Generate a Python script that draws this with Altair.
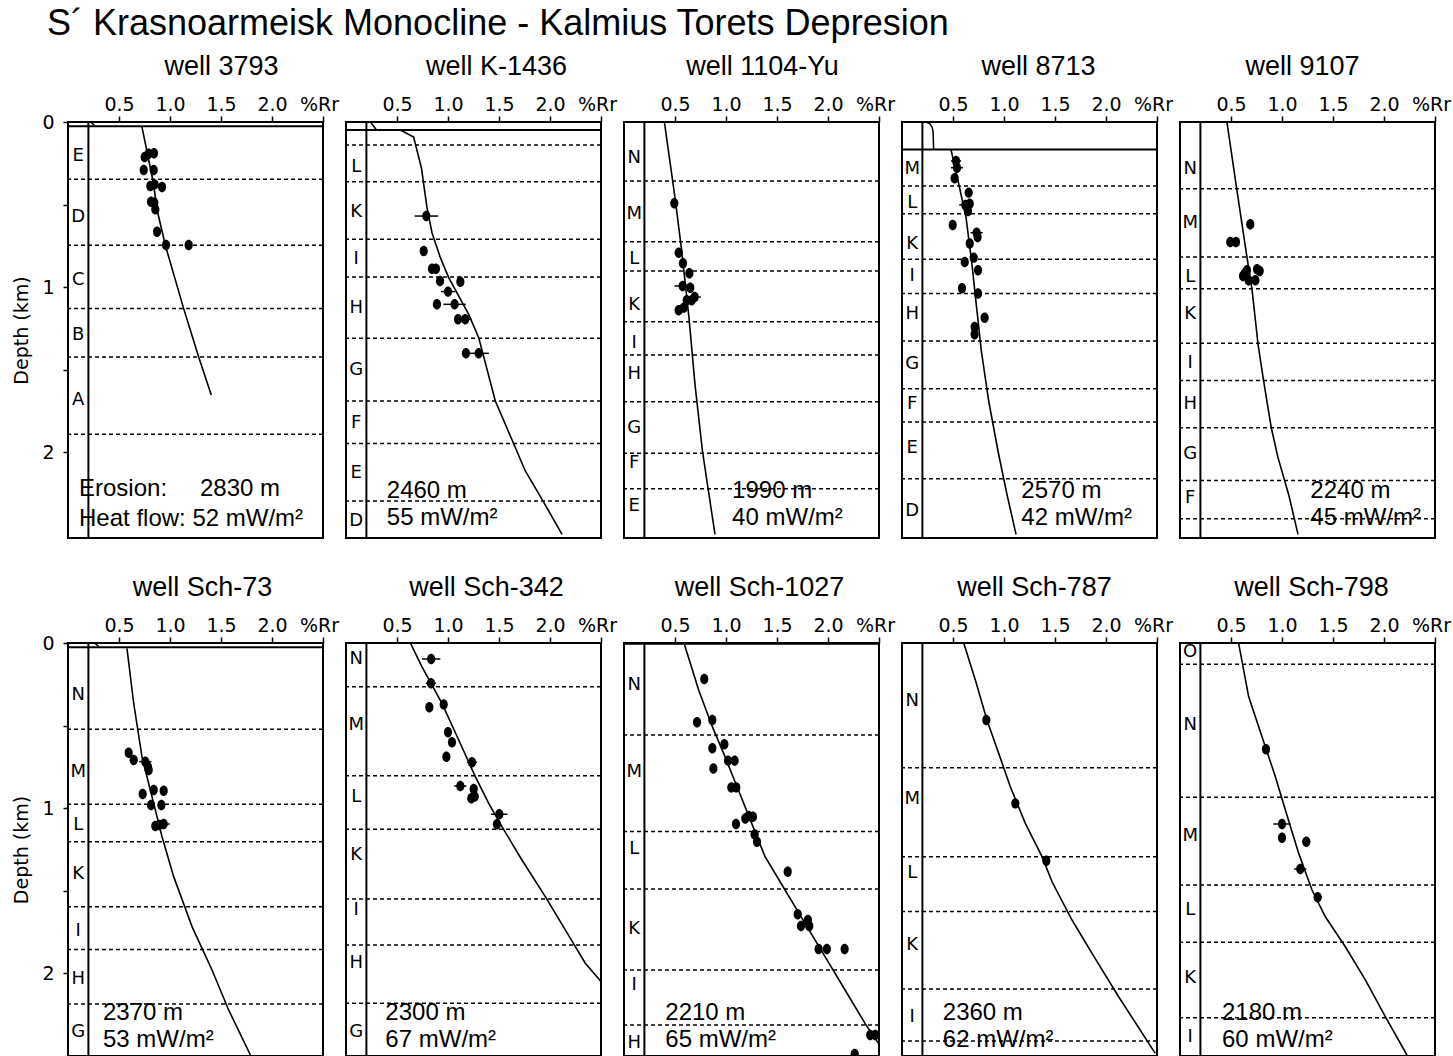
import altair as alt
import pandas as pd

# ---------------- data ----------------
TITLE = "S\u00b4 Krasnoarmeisk Monocline - Kalmius Torets Depresion"
WELL_NAMES = ["well 3793", "well K-1436", "well 1104-Yu", "well 8713", "well 9107",
              "well Sch-73", "well Sch-342", "well Sch-1027", "well Sch-787", "well Sch-798"]
X_TICKS = [0.5, 1.0, 1.5, 2.0, 2.5]
Y_TICKS = [0, 0.5, 1, 1.5, 2]

# well 3793
W1_CURVE_X = [0.725, 0.83, 0.88, 0.954, 1.134, 1.281, 1.405]
W1_CURVE_D = [0.03, 0.347, 0.55, 0.747, 1.131, 1.424, 1.655]
W1_PTS_X = [0.752, 0.791, 0.843, 0.742, 0.840, 0.807, 0.850, 0.922, 0.814, 0.846, 0.856, 0.873, 0.961, 1.183]
W1_PTS_D = [0.212, 0.192, 0.190, 0.291, 0.291, 0.388, 0.378, 0.394, 0.483, 0.489, 0.529, 0.665, 0.745, 0.745]
W1_ERR = [0] * 14
W1_BOUNDS = [0.347, 0.747, 1.131, 1.424, 1.893]
W1_UNITS = ["E", "D", "C", "B", "A"]
W1_UNITS_D = [0.206, 0.574, 0.958, 1.293, 1.685]
W1_TOPLINE = [0.025]
W1_STRIP_X = [0.22, 0.26]
W1_STRIP_D = [0.0, 0.02]
W1_TEXT = ["Erosion:", "2830 m", "Heat flow: 52 mW/m\u00b2"]
W1_TEXT_X = [0.108, 1.294, 0.108]
W1_TEXT_D = [2.267, 2.267, 2.448]

# well K-1436
W2_CURVE_X = [0.533, 0.663, 0.739, 0.794, 0.843, 0.925, 1.007, 1.203, 1.301, 1.464, 1.562, 1.758, 1.922, 2.118]
W2_CURVE_D = [0.048, 0.091, 0.277, 0.519, 0.671, 0.822, 0.943, 1.166, 1.307, 1.691, 1.832, 2.115, 2.287, 2.499]
W2_PTS_X = [0.788, 0.762, 0.843, 0.882, 0.922, 1.121, 1.0, 0.892, 1.065, 1.098, 1.169, 1.176, 1.301]
W2_PTS_D = [0.570, 0.782, 0.889, 0.889, 0.964, 0.968, 1.028, 1.105, 1.105, 1.196, 1.196, 1.402, 1.402]
W2_ERR = [0.115, 0, 0, 0, 0, 0, 0.07, 0, 0.11, 0, 0.06, 0, 0.1]
W2_BOUNDS = [0.139, 0.362, 0.711, 0.939, 1.311, 1.691, 1.949, 2.297]
W2_UNITS = ["L", "K", "I", "H", "G", "F", "E", "D"]
W2_UNITS_D = [0.273, 0.545, 0.828, 1.129, 1.505, 1.822, 2.125, 2.418]
W2_TOPLINE = [0.048]
W2_STRIP_X = [0.238, 0.30]
W2_STRIP_D = [0.0, 0.048]
W2_TEXT = ["2460 m", "55 mW/m\u00b2"]
W2_TEXT_X = [0.40, 0.40]
W2_TEXT_D = [2.279, 2.44]

# well 1104-Yu
W3_CURVE_X = [0.396, 0.5, 0.566, 0.637, 0.696, 0.769, 0.892]
W3_CURVE_D = [0.0, 0.459, 0.782, 1.186, 1.59, 1.994, 2.499]
W3_PTS_X = [0.493, 0.536, 0.578, 0.641, 0.575, 0.650, 0.693, 0.615, 0.664, 0.536, 0.585]
W3_PTS_D = [0.493, 0.792, 0.856, 0.917, 0.994, 1.004, 1.061, 1.081, 1.081, 1.141, 1.125]
W3_ERR = [0, 0, 0.04, 0, 0.08, 0, 0.06, 0, 0, 0, 0]
W3_BOUNDS = [0.358, 0.725, 0.903, 1.210, 1.412, 1.695, 2.008, 2.222]
W3_UNITS = ["N", "M", "L", "K", "I", "H", "G", "F", "E"]
W3_UNITS_D = [0.216, 0.556, 0.832, 1.109, 1.337, 1.525, 1.853, 2.065, 2.327]
W3_TOPLINE = []
W3_STRIP_X = []
W3_STRIP_D = []
W3_TEXT = ["1990 m", "40 mW/m\u00b2"]
W3_TEXT_X = [1.06, 1.06]
W3_TEXT_D = [2.279, 2.44]

# well 8713
W4_CURVE_X = [0.48, 0.557, 0.628, 0.686, 0.735, 0.778, 0.85, 0.941, 1.029, 1.118]
W4_CURVE_D = [0.166, 0.378, 0.580, 0.863, 1.145, 1.388, 1.691, 1.994, 2.257, 2.499]
W4_PTS_X = [0.53, 0.539, 0.516, 0.654, 0.621, 0.664, 0.647, 0.497, 0.732, 0.741, 0.664, 0.703, 0.615,
            0.745, 0.588, 0.745, 0.810, 0.712, 0.712]
W4_PTS_D = [0.236, 0.277, 0.341, 0.428, 0.503, 0.495, 0.539, 0.624, 0.671, 0.697, 0.737, 0.822, 0.848,
            0.899, 1.008, 1.040, 1.186, 1.242, 1.287]
W4_ERR = [0.05, 0.06, 0, 0, 0.06, 0, 0, 0.03, 0.06, 0, 0, 0, 0, 0, 0, 0, 0, 0, 0]
W4_BOUNDS = [0.388, 0.556, 0.832, 1.040, 1.327, 1.616, 1.818, 2.162]
W4_UNITS = ["M", "L", "K", "I", "H", "G", "F", "E", "D"]
W4_UNITS_D = [0.287, 0.489, 0.737, 0.933, 1.166, 1.469, 1.711, 1.974, 2.358]
W4_TOPLINE = [0.166]
W4_STRIP_X = [0.235, 0.27, 0.295, 0.305, 0.31]
W4_STRIP_D = [0.0, 0.01, 0.03, 0.06, 0.166]
W4_TEXT = ["2570 m", "42 mW/m\u00b2"]
W4_TEXT_X = [1.17, 1.17]
W4_TEXT_D = [2.279, 2.44]

# well 9107
W5_CURVE_X = [0.461, 0.559, 0.657, 0.706, 0.765, 0.82, 0.895, 0.961, 1.065, 1.157]
W5_CURVE_D = [0.004, 0.418, 0.822, 1.014, 1.347, 1.570, 1.853, 2.034, 2.257, 2.499]
W5_PTS_X = [0.689, 0.493, 0.549, 0.657, 0.755, 0.781, 0.618, 0.673, 0.739, 0.634]
W5_PTS_D = [0.620, 0.727, 0.727, 0.899, 0.893, 0.903, 0.933, 0.959, 0.959, 0.919]
W5_ERR = [0] * 10
W5_BOUNDS = [0.404, 0.818, 1.010, 1.341, 1.566, 1.853, 2.172, 2.404]
W5_UNITS = ["N", "M", "L", "K", "I", "H", "G", "F"]
W5_UNITS_D = [0.287, 0.610, 0.939, 1.166, 1.459, 1.711, 2.014, 2.277]
W5_TOPLINE = []
W5_STRIP_X = []
W5_STRIP_D = []
W5_TEXT = ["2240 m", "45 mW/m\u00b2"]
W5_TEXT_X = [1.278, 1.278]
W5_TEXT_D = [2.279, 2.44]

# well Sch-73
W6_CURVE_X = [0.578, 0.644, 0.725, 0.840, 0.922, 1.036, 1.216, 1.412, 1.575, 1.788]
W6_CURVE_D = [0.032, 0.365, 0.689, 0.972, 1.174, 1.416, 1.719, 1.982, 2.224, 2.497]
W6_PTS_X = [0.595, 0.644, 0.758, 0.791, 0.784, 0.732, 0.840, 0.938, 0.814, 0.915, 0.856, 0.895, 0.938]
W6_PTS_D = [0.665, 0.709, 0.719, 0.770, 0.75, 0.915, 0.891, 0.895, 0.982, 0.982, 1.109, 1.103, 1.097]
W6_ERR = [0, 0.04, 0.06, 0, 0, 0, 0, 0, 0, 0, 0, 0, 0.06]
W6_BOUNDS = [0.523, 0.978, 1.204, 1.598, 1.857, 2.188]
W6_UNITS = ["N", "M", "L", "K", "I", "H", "G"]
W6_UNITS_D = [0.315, 0.780, 1.103, 1.4, 1.745, 2.038, 2.355]
W6_TOPLINE = [0.026]
W6_STRIP_X = [0.26, 0.30]
W6_STRIP_D = [0.0, 0.02]
W6_TEXT = ["2370 m", "53 mW/m\u00b2"]
W6_TEXT_X = [0.343, 0.343]
W6_TEXT_D = [2.285, 2.446]

# well Sch-342
W7_CURVE_X = [0.23, 0.631, 0.745, 0.843, 0.941, 1.105, 1.268, 1.399, 1.529, 1.725, 1.954, 2.150, 2.346, 2.5]
W7_CURVE_D = [0.0, 0.0, 0.144, 0.255, 0.366, 0.588, 0.810, 0.972, 1.113, 1.315, 1.537, 1.739, 1.941, 2.052]
W7_PTS_X = [0.835, 0.833, 0.958, 0.817, 1.0, 1.039, 0.984, 1.235, 1.121, 1.252, 1.228, 1.262, 1.503, 1.480]
W7_PTS_D = [0.097, 0.244, 0.372, 0.390, 0.541, 0.602, 0.689, 0.723, 0.867, 0.885, 0.941, 0.931, 1.038, 1.099]
W7_ERR = [0.09, 0.05, 0, 0, 0, 0, 0, 0.05, 0.06, 0, 0, 0, 0.08, 0.04]
W7_BOUNDS = [0.265, 0.804, 1.129, 1.552, 1.830, 2.184]
W7_UNITS = ["N", "M", "L", "K", "I", "H", "G"]
W7_UNITS_D = [0.099, 0.497, 0.935, 1.285, 1.618, 1.941, 2.355]
W7_TOPLINE = []
W7_STRIP_X = []
W7_STRIP_D = []
W7_TEXT = ["2300 m", "67 mW/m\u00b2"]
W7_TEXT_X = [0.386, 0.386]
W7_TEXT_D = [2.285, 2.446]

# well Sch-1027
W8_CURVE_X = [0.594, 0.732, 0.866, 0.99, 1.121, 1.252, 1.383, 1.579, 1.775, 1.971, 2.167, 2.363, 2.494]
W8_CURVE_D = [0.012, 0.285, 0.507, 0.689, 0.891, 1.093, 1.295, 1.497, 1.699, 1.901, 2.103, 2.305, 2.426]
W8_PTS_X = [0.787, 0.716, 0.866, 0.866, 0.984, 1.02, 1.085, 0.876, 1.052, 1.101, 1.189, 1.222, 1.264, 1.098,
            1.281, 1.304, 1.605, 1.703, 1.735, 1.803, 1.816, 1.908, 1.989, 2.163, 2.414, 2.463, 2.262]
W8_PTS_D = [0.218, 0.481, 0.467, 0.638, 0.614, 0.713, 0.713, 0.760, 0.875, 0.875, 1.063, 1.048, 1.053, 1.097,
            1.160, 1.204, 1.386, 1.644, 1.715, 1.679, 1.715, 1.855, 1.855, 1.855, 2.376, 2.376, 2.491]
W8_ERR = [0] * 27
W8_BOUNDS = [0.558, 1.143, 1.491, 1.982, 2.315]
W8_UNITS = ["N", "M", "L", "K", "I", "H"]
W8_UNITS_D = [0.255, 0.780, 1.25, 1.735, 2.073, 2.426]
W8_TOPLINE = [0.004]
W8_STRIP_X = []
W8_STRIP_D = []
W8_TEXT = ["2210 m", "65 mW/m\u00b2"]
W8_TEXT_X = [0.405, 0.405]
W8_TEXT_D = [2.285, 2.446]

# well Sch-787
W9_CURVE_X = [0.28, 0.605, 0.719, 0.833, 0.948, 1.062, 1.209, 1.373, 1.471, 1.667, 1.863, 2.124, 2.483]
W9_CURVE_D = [0.0, 0.0, 0.224, 0.467, 0.669, 0.871, 1.093, 1.295, 1.447, 1.679, 1.881, 2.144, 2.487]
W9_PTS_X = [0.827, 1.111, 1.415]
W9_PTS_D = [0.467, 0.972, 1.319]
W9_ERR = [0, 0, 0]
W9_BOUNDS = [0.756, 1.295, 1.628, 2.097, 2.412]
W9_UNITS = ["N", "M", "L", "K", "I"]
W9_UNITS_D = [0.352, 0.947, 1.392, 1.830, 2.265]
W9_TOPLINE = []
W9_STRIP_X = []
W9_STRIP_D = []
W9_TEXT = ["2360 m", "62 mW/m\u00b2"]
W9_TEXT_X = [0.40, 0.40]
W9_TEXT_D = [2.285, 2.446]

# well Sch-798
W10_CURVE_X = [0.575, 0.673, 0.804, 0.935, 1.033, 1.164, 1.294, 1.425, 1.621, 1.817, 2.013, 2.225]
W10_CURVE_D = [0.002, 0.325, 0.568, 0.810, 1.012, 1.275, 1.497, 1.659, 1.841, 2.042, 2.265, 2.497]
W10_PTS_X = [0.843, 1.0, 1.0, 1.238, 1.179, 1.35]
W10_PTS_D = [0.644, 1.097, 1.180, 1.204, 1.370, 1.541]
W10_ERR = [0, 0.085, 0, 0.04, 0.06, 0.04]
W10_BOUNDS = [0.129, 0.935, 1.467, 1.814, 2.271]
W10_UNITS = ["O", "N", "M", "L", "K", "I"]
W10_UNITS_D = [0.053, 0.497, 1.170, 1.618, 2.028, 2.386]
W10_TOPLINE = []
W10_STRIP_X = []
W10_STRIP_D = []
W10_TEXT = ["2180 m", "60 mW/m\u00b2"]
W10_TEXT_X = [0.412, 0.412]
W10_TEXT_D = [2.285, 2.446]

# ---------------- layout / style ----------------
PANEL_W = 255
PX_PER_KM = 165.0
ROW_H = [416, 413]
STRIP = 0.2
TITLE_DX = [26, 23, 11, 9, -5, 7, 13, 8, 5, 4]
TICK_FONT = "DejaVu Sans"
TEXT_FONT = "Liberation Sans"

WELLS = []
for k in range(1, 11):
    g = globals()
    WELLS.append(dict(
        cx=g[f"W{k}_CURVE_X"], cd=g[f"W{k}_CURVE_D"],
        px=g[f"W{k}_PTS_X"], pd_=g[f"W{k}_PTS_D"], err=g[f"W{k}_ERR"],
        bounds=g[f"W{k}_BOUNDS"], units=g[f"W{k}_UNITS"], units_d=g[f"W{k}_UNITS_D"],
        top=g[f"W{k}_TOPLINE"], sx=g[f"W{k}_STRIP_X"], sd=g[f"W{k}_STRIP_D"],
        text=g[f"W{k}_TEXT"], tx=g[f"W{k}_TEXT_X"], td=g[f"W{k}_TEXT_D"],
    ))

ELLIPSE = "M-0.78,0 A0.78,1 0 1,0 0.78,0 A0.78,1 0 1,0 -0.78,0 Z"


def make_panel(i):
    w = WELLS[i]
    row = i // 5
    col = i % 5
    h = ROW_H[row]
    dmax = h / PX_PER_KM
    xs = alt.Scale(domain=[0, 2.5], nice=False, zero=False)
    ys = alt.Scale(domain=[0, dmax], reverse=True, nice=False, zero=False)

    x_axis = alt.Axis(
        orient="top", values=X_TICKS,
        labelExpr="datum.value == 2.5 ? '%Rr' : format(datum.value, '.1f')",
        labelOverlap=False, labelFlush=False,
        labelOffset={"condition": {"test": "datum.value == 2.5", "value": -4}, "value": 0},
        grid=False, domain=False, tickSize=6, tickColor="black", tickWidth=1.5,
        labelFont=TICK_FONT, labelFontSize=19, labelColor="black", labelPadding=2,
        title=None,
    )
    if col == 0:
        y_axis = alt.Axis(
            orient="left", values=Y_TICKS,
            labelExpr="datum.value % 1 == 0 ? format(datum.value, 'd') : ''",
            labelOverlap=False,
            grid=False, domain=False, tickSize=5, tickColor="black", tickWidth=1.5,
            labelFont=TICK_FONT, labelFontSize=19, labelColor="black", labelPadding=9,
            title="Depth (km)", titleFont=TICK_FONT, titleFontSize=19,
            titleFontWeight="normal", titleColor="black", titlePadding=10,
        )
    else:
        y_axis = None

    # every layer carries the same axis definition so the shared axes merge cleanly
    X = lambda f: alt.X(f, type="quantitative", scale=xs, axis=x_axis)
    Y = lambda f: alt.Y(f, type="quantitative", scale=ys, axis=y_axis)

    curve = pd.DataFrame({"x": w["cx"], "d": w["cd"], "o": list(range(len(w["cx"])))})
    pts = pd.DataFrame({"x": w["px"], "d": w["pd_"], "e": w["err"]})
    errs = pts[pts["e"] > 0].copy()
    errs["lo"] = errs["x"] - errs["e"]
    errs["hi"] = errs["x"] + errs["e"]
    bounds = pd.DataFrame({"d": w["bounds"]})
    units = pd.DataFrame({"u": w["units"], "d": w["units_d"]})
    texts = pd.DataFrame({"t": w["text"], "x": w["tx"], "d": w["td"]})
    strip = pd.DataFrame({"s": [STRIP]})

    layers = []
    layers.append(
        alt.Chart(curve).mark_line(color="black", strokeWidth=1.6, clip=True).encode(
            x=X("x"), y=Y("d"), order="o:Q",
        )
    )
    layers.append(
        alt.Chart(strip).mark_rule(color="black", strokeWidth=2).encode(x=X("s"))
    )
    layers.append(
        alt.Chart(bounds).mark_rule(color="black", strokeWidth=1.5, strokeDash=[4, 3]).encode(y=Y("d"))
    )
    if w["top"]:
        layers.append(
            alt.Chart(pd.DataFrame({"d": w["top"]})).mark_rule(color="black", strokeWidth=2).encode(y=Y("d"))
        )
    if w["sx"]:
        sdf = pd.DataFrame({"x": w["sx"], "d": w["sd"], "o": list(range(len(w["sx"])))})
        layers.append(
            alt.Chart(sdf).mark_line(color="black", strokeWidth=1.5).encode(x=X("x"), y=Y("d"), order="o:Q")
        )
    if len(errs):
        layers.append(
            alt.Chart(errs).mark_rule(color="black", strokeWidth=1.5).encode(
                x=X("lo"), x2="hi:Q", y=Y("d")
            )
        )
    layers.append(
        alt.Chart(pts).mark_point(shape=ELLIPSE, filled=True, color="black", size=110, opacity=1).encode(
            x=X("x"), y=Y("d")
        )
    )
    layers.append(
        alt.Chart(units).transform_calculate(ux=str(STRIP / 2)).mark_text(
            font=TICK_FONT, fontSize=18, color="black", align="center", baseline="middle"
        ).encode(x=X("ux"), y=Y("d"), text="u:N")
    )
    layers.append(
        alt.Chart(texts).mark_text(font=TEXT_FONT, fontSize=24, color="black",
                                   align="left", baseline="alphabetic").encode(
            x=X("x"), y=Y("d"), text="t:N"
        )
    )
    return alt.layer(*layers).properties(
        width=PANEL_W, height=h,
        title=alt.TitleParams(WELL_NAMES[i], font=TEXT_FONT, fontSize=27, fontWeight="normal",
                              color="black", offset=14, dx=TITLE_DX[i]),
    )


panels = [make_panel(i) for i in range(10)]

chart = alt.concat(
    *panels, columns=5, spacing={"row": 105, "column": 23}, bounds="flush"
).properties(
    title=alt.TitleParams(TITLE, anchor="start", frame="group", font=TEXT_FONT, fontSize=36,
                          fontWeight="normal", color="black", dx=-21, offset=9),
    padding={"left": 11, "top": 6, "right": 0, "bottom": 0},
    background="white",
).configure_view(stroke="black", strokeWidth=2)

chart.save("out.html", embed_options={"renderer": "svg", "actions": False})
